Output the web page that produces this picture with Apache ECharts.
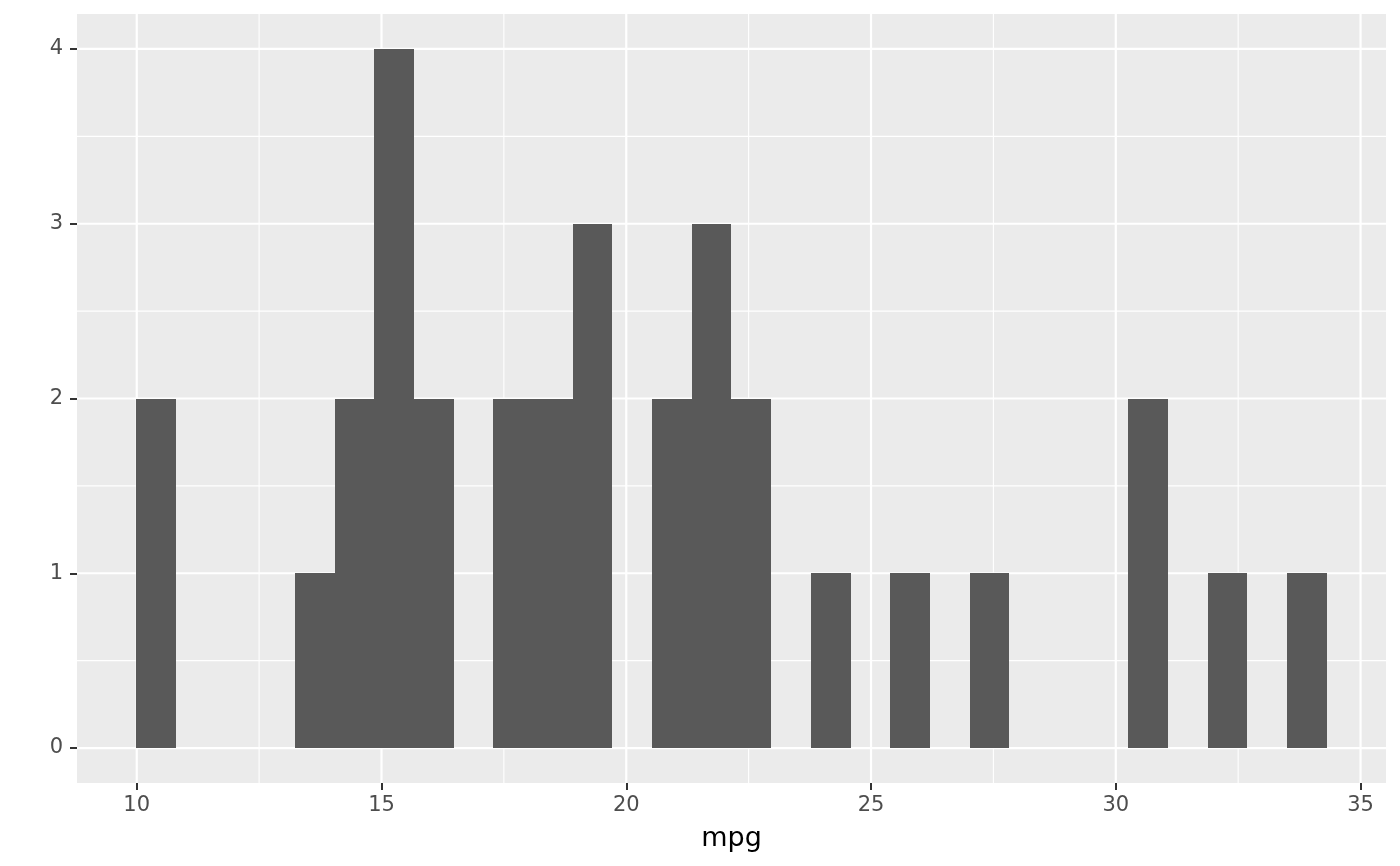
<!DOCTYPE html>
<html>
<head>
<meta charset="utf-8">
<script src="https://cdn.jsdelivr.net/npm/echarts@6/dist/echarts.min.js"></script>
<style>
html,body{margin:0;padding:0;background:#fff;}
#chart{width:1400px;height:866px;}
</style>
</head>
<body>
<div id="chart"></div>
<script>
// Histogram bin edges (31 edges -> 30 bins) and counts
const binEdges = [9.995, 10.805, 11.616, 12.426, 13.236, 14.047, 14.857, 15.667, 16.478, 17.288,
  18.098, 18.909, 19.719, 20.529, 21.340, 22.150, 22.960, 23.771, 24.581, 25.391,
  26.202, 27.012, 27.822, 28.633, 29.443, 30.253, 31.064, 31.874, 32.684, 33.495, 34.305];
const counts = [2, 0, 0, 0, 1, 2, 4, 2, 0, 2,
  2, 3, 0, 2, 3, 2, 0, 1, 0, 1,
  0, 1, 0, 0, 0, 2, 0, 1, 0, 1];
const xTicks = [10, 15, 20, 25, 30, 35];
const xMinor = [12.5, 17.5, 22.5, 27.5, 32.5];
const yTicks = [0, 1, 2, 3, 4];
const yMinor = [0.5, 1.5, 2.5, 3.5];
const xTitle = 'mpg';

const barData = counts.map((c, i) => [binEdges[i], binEdges[i + 1], c]);

const chart = echarts.init(document.getElementById('chart'));
const FONT = 'DejaVu Sans';

function vLines(width) {
  return function (params, api) {
    const cs = params.coordSys;
    const x = api.coord([api.value(0), 0])[0];
    return {type: 'line', shape: {x1: x, y1: cs.y, x2: x, y2: cs.y + cs.height},
      style: {stroke: '#FFFFFF', lineWidth: width}, silent: true};
  };
}
function hLines(width) {
  return function (params, api) {
    const cs = params.coordSys;
    const y = api.coord([10, api.value(0)])[1];
    return {type: 'line', shape: {x1: cs.x, y1: y, x2: cs.x + cs.width, y2: y},
      style: {stroke: '#FFFFFF', lineWidth: width}, silent: true};
  };
}

chart.setOption({
  animation: false,
  backgroundColor: '#FFFFFF',
  grid: {left: 77, right: 14, top: 14, bottom: 83, show: true,
    backgroundColor: '#EBEBEB', borderWidth: 0, containLabel: false},
  xAxis: {
    type: 'value', min: 8.78, max: 35.52, position: 'bottom',
    name: xTitle, nameLocation: 'middle', nameGap: 42,
    nameTextStyle: {fontFamily: FONT, fontSize: 27, color: '#000000'},
    axisLine: {show: false, onZero: false},
    axisTick: {show: true, customValues: xTicks, length: 7, lineStyle: {color: '#333333', width: 2}},
    axisLabel: {customValues: xTicks, margin: 12, fontFamily: FONT, fontSize: 21, color: '#4D4D4D'},
    splitLine: {show: false}
  },
  yAxis: {
    type: 'value', min: -0.2, max: 4.2,
    axisLine: {show: false, onZero: false},
    axisTick: {show: true, customValues: yTicks, length: 7, lineStyle: {color: '#333333', width: 2}},
    axisLabel: {customValues: yTicks, margin: 14, fontFamily: FONT, fontSize: 21, color: '#4D4D4D'},
    splitLine: {show: false}
  },
  series: [
    {type: 'custom', data: xMinor.map(v => [v]), renderItem: vLines(1.1), encode: {x: 0}, z: 1, silent: true},
    {type: 'custom', data: yMinor.map(v => [v]), renderItem: hLines(1.1), encode: {y: 0}, z: 1, silent: true},
    {type: 'custom', data: xTicks.map(v => [v]), renderItem: vLines(2.2), encode: {x: 0}, z: 2, silent: true},
    {type: 'custom', data: yTicks.map(v => [v]), renderItem: hLines(2.2), encode: {y: 0}, z: 2, silent: true},
    {
      type: 'custom', z: 3,
      data: barData,
      encode: {x: [0, 1], y: 2},
      renderItem: function (params, api) {
        if (api.value(2) <= 0) return null;
        const p0 = api.coord([api.value(0), 0]);
        const p1 = api.coord([api.value(1), api.value(2)]);
        const x0 = Math.round(p0[0]), x1 = Math.round(p1[0]);
        const yb = Math.round(p0[1]), yt = Math.round(p1[1]);
        return {type: 'rect', shape: {x: x0, y: yt, width: x1 - x0, height: yb - yt},
          style: {fill: '#595959'}};
      }
    }
  ]
});
</script>
</body>
</html>
